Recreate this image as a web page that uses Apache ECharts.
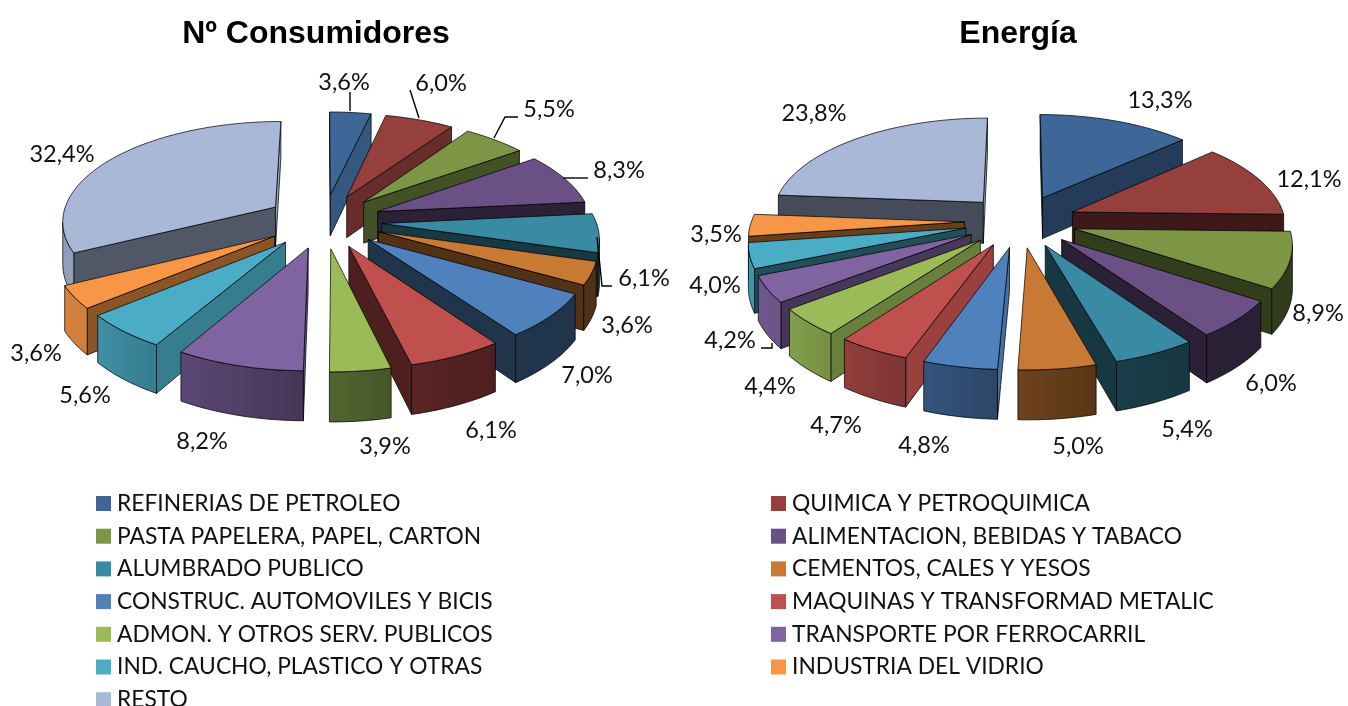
<!DOCTYPE html>
<html><head><meta charset="utf-8">
<style>html,body{margin:0;padding:0;background:#fff}#c{width:1348px;height:706px}</style>
<script src="https://cdn.jsdelivr.net/npm/echarts@6/dist/echarts.min.js"></script>
</head><body><div id="c"></div>
<script>
const categories = ['REFINERIAS DE PETROLEO','QUIMICA Y PETROQUIMICA','PASTA PAPELERA, PAPEL, CARTON','ALIMENTACION, BEBIDAS Y TABACO','ALUMBRADO PUBLICO','CEMENTOS, CALES Y YESOS','CONSTRUC. AUTOMOVILES Y BICIS','MAQUINAS Y TRANSFORMAD METALIC','ADMON. Y OTROS SERV. PUBLICOS','TRANSPORTE POR FERROCARRIL','IND. CAUCHO, PLASTICO Y OTRAS','INDUSTRIA DEL VIDRIO','RESTO'];
const consumidores = [3.6,6.0,5.5,8.3,6.1,3.6,7.0,6.1,3.9,8.2,5.6,3.6,32.4];
const energia = [13.3,12.1,8.9,6.0,5.4,5.0,4.8,4.7,4.4,4.2,4.0,3.5,23.8];
const titles = ['Nº Consumidores','Energía'];
const colors = ['#3E6797','#96403E','#7C9646','#6A5085','#398BA4','#C87A35','#4F81BD','#C0504D','#9BBB59','#8064A2','#4BACC6','#F79646','#A9B8D7'];

// Layout of the two exploded pies (perspective projection of a tilted disc)
const pies = [
  {values:consumidores, cx:324, R:214, E:58},
  {values:energia, cx:1020.5, R:213, E:56}
];
const VIEW = {A:221, B:0.466, g:0.000593, depth:42};
// Hand-placed data labels and leader lines, as in the source chart
const labelSpots = [
  [[344,82],[441,83],[549,109],[619,170],[644,278],[627,325],[587,375],[491,430],[385,446],[202,441],[85,395],[36,353],[62,154]],
  [[1160,100],[1309,179],[1318,313],[1271,383],[1187,429],[1078,446],[924,445],[836,425],[770,386],[730,340],[715,285],[716,234],[814,113]]
];
const leaders = [
  {0:[[350,92],[350,111]],1:[[410,90],[419,118]],2:[[518,117],[505,117],[494,138]],3:[[588,178],[563,178]],4:[[612,286],[602,286],[597,237]]},
  {9:[[761,348],[772,348],[772,343]]}
];

const radialShade = [[90,.88],[103,.85],[120,.73],[140,.57],[155,.46],[175,.41],[270,.4]];
const arcShade = [[90,.4],[155,.4],[175,.5],[190,.6],[210,.72],[225,.82],[240,.87],[270,.85]];

function lerp(t,n){ n=((n%360)+360)%360; if(n<t[0][0])return t[0][1];
  for(let i=1;i<t.length;i++) if(n<=t[i][0]){const a=t[i-1],b=t[i];return a[1]+(b[1]-a[1])*(n-a[0])/(b[0]-a[0]);}
  return t[t.length-1][1]; }
function shade(hex,f){ const v=[1,3,5].map(i=>Math.round(parseInt(hex.substr(i,2),16)*f));
  return 'rgb('+v.join(',')+')'; }
function project(p,x,y,z){ const k=1/(1-VIEW.g*y); return [p.cx+x*k, VIEW.A+(VIEW.B*y+z)*k]; }

function sliceElements(c,i,value){
  const p=pies[c], vals=p.values, tot=vals.reduce((a,b)=>a+b,0);
  let cum=0; for(let j=0;j<i;j++) cum+=vals[j];
  const a0=cum/tot*360, a1=(cum+value)/tot*360, mid=(a0+a1)/2, rad=Math.PI/180;
  const ox=p.E*Math.sin(mid*rad), oy=-p.E*Math.cos(mid*rad);
  const steps=Math.max(4,Math.ceil((a1-a0)/2));
  const arc=[], arcB=[], ang=[];
  for(let s=0;s<=steps;s++){
    const a=a0+(a1-a0)*s/steps, x=ox+p.R*Math.sin(a*rad), y=oy-p.R*Math.cos(a*rad);
    arc.push(project(p,x,y,0)); arcB.push(project(p,x,y,VIEW.depth)); ang.push(a);
  }
  const A=project(p,ox,oy,0), AB=project(p,ox,oy,VIEW.depth);
  const edge=c=>({stroke:'rgba(0,0,0,.72)',lineWidth:1,lineJoin:'round',fill:c});
  const out=[], base=colors[i], S=0, Z=arc.length-1;
  if(arc[S][0]<A[0]) out.push({type:'polygon',shape:{points:[A,arc[S],arcB[S],AB]},style:edge(shade(base,lerp(radialShade,a0-90)))});
  if(A[0]<arc[Z][0]) out.push({type:'polygon',shape:{points:[arc[Z],A,AB,arcB[Z]]},style:edge(shade(base,lerp(radialShade,a1+90)))});
  let from=-1,to=-1;
  for(let s=0;s<steps;s++) if(arc[s+1][0]<arc[s][0]){ if(from<0)from=s; to=s+1; }
  if(from>=0){
    const top=arc.slice(from,to+1), bot=arcB.slice(from,to+1).reverse();
    out.push({type:'polygon',shape:{points:top.concat(bot)},style:Object.assign(edge(''),{
      fill:new echarts.graphic.LinearGradient(1,0,0,0,[
        {offset:0,color:shade(base,lerp(arcShade,ang[from]))},
        {offset:1,color:shade(base,lerp(arcShade,ang[to]))}])})});
  }
  out.push({type:'polygon',shape:{points:[A].concat(arc)},style:edge(base)});
  const lead=leaders[c][i];
  if(lead) out.push({type:'polyline',z2:5,shape:{points:lead},style:{stroke:'#000',lineWidth:1.4,fill:null}});
  out.push({type:'text',z2:6,style:{text:value.toFixed(1).replace('.',',')+'%',
    x:labelSpots[c][i][0],y:labelSpots[c][i][1],align:'center',verticalAlign:'middle',
    font:'23.5px Lato',fill:'#111'}});
  return {type:'group',children:out};
}

const series=[];
pies.forEach((p,c)=>{
  const tot=p.values.reduce((a,b)=>a+b,0); let cum=0;
  p.values.forEach((v,i)=>{
    const mid=(cum+v/2)/tot*2*Math.PI; cum+=v;
    series.push({type:'custom',name:categories[i],coordinateSystem:'none',silent:true,animation:false,
      clip:false,z:Math.round(10-9*Math.cos(mid))*1+2,
      itemStyle:{color:colors[i]},data:[[v]],
      renderItem:(params,api)=>sliceElements(c,i,api.value(0))});
  });
});

const legendBase={type:'plain',orient:'vertical',top:490,height:260,selectedMode:false,padding:0,
  itemWidth:15,itemHeight:15,itemGap:5.7,icon:'rect',
  textStyle:{fontFamily:'Lato',fontSize:22.8,color:'#111',lineHeight:27,padding:[0,0,0,1]},itemStyle:{borderWidth:0}};

echarts.init(document.getElementById('c'),null,{renderer:'canvas'}).setOption({
  backgroundColor:'#fff',animation:false,
  title:titles.map((t,k)=>({text:t,left:[311,1013][k],top:13,textAlign:'center',
    textStyle:{fontFamily:'Liberation Sans',fontWeight:'bold',fontSize:32,color:'#000'}})),
  legend:[
    Object.assign({left:96,data:categories.filter((_,k)=>k%2===0)},legendBase),
    Object.assign({left:771,data:categories.filter((_,k)=>k%2===1)},legendBase)
  ],
  series
});
</script></body></html>
